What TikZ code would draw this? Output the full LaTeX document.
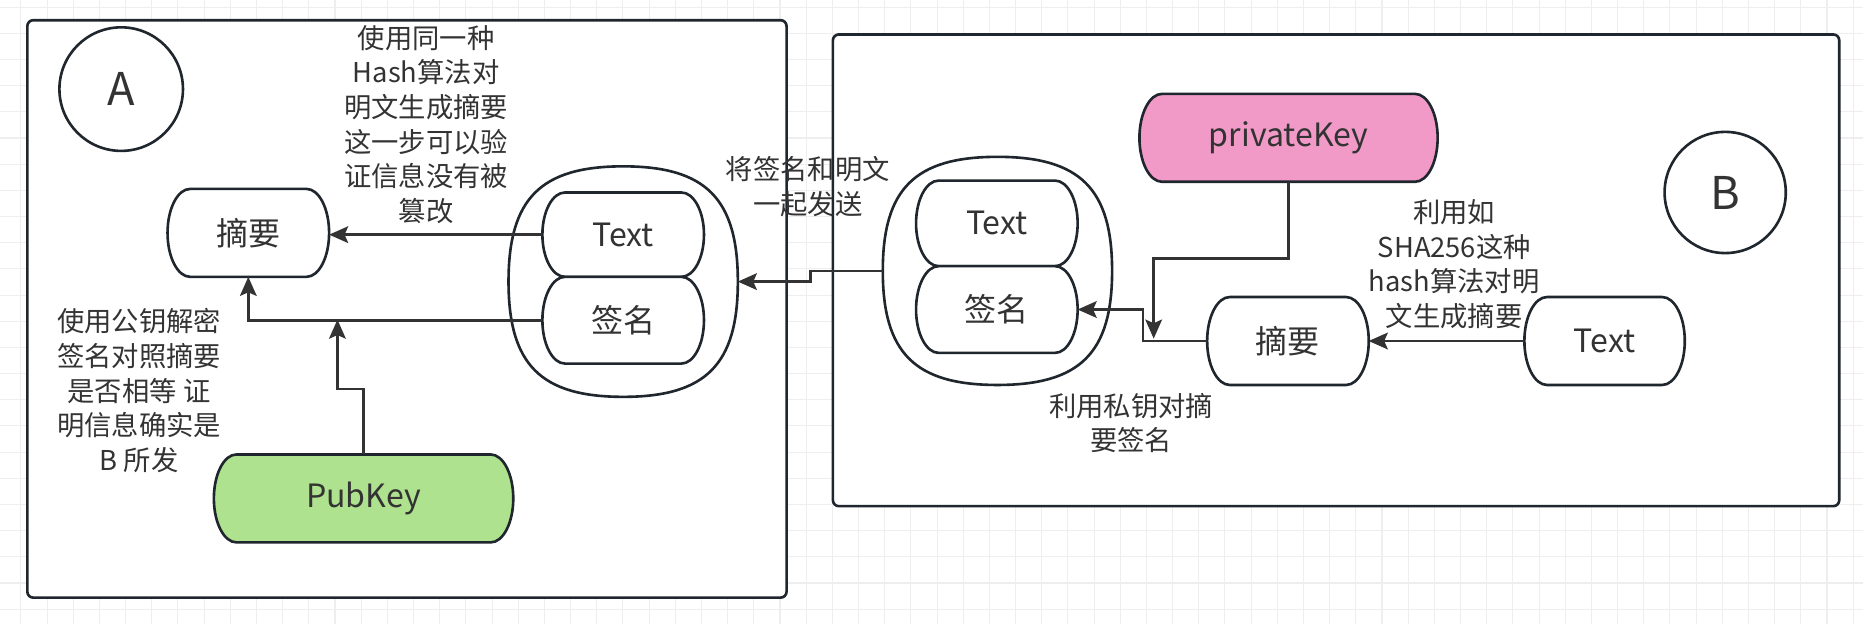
\documentclass[tikz,border=0pt]{standalone}
\usepackage{fontspec}
\setmainfont{Noto Sans CJK SC}
\usetikzlibrary{arrows.meta, calc}
\definecolor{gridc}{HTML}{EEEEEE}
\definecolor{edgec}{HTML}{1F262D}
\definecolor{linec}{HTML}{333333}
\definecolor{txtc}{HTML}{333333}
\definecolor{pubc}{HTML}{AEE28E}
\definecolor{keyc}{HTML}{F19AC8}
\pgfdeclarelayer{back}
\pgfdeclarelayer{shapes}
\pgfsetlayers{back,shapes,main}
\tikzset{
  panel/.style={draw=edgec, fill=white, line width=1.1pt, rounded corners=2.5pt},
  rim/.style={draw=edgec, line width=1.1pt},
  party/.style={circle, draw=edgec, fill=white, line width=1.1pt, minimum size=52pt,
                inner sep=0pt, font=\fontsize{19}{22}\selectfont, text=txtc},
  blob/.style={minimum width=68pt, minimum height=37pt, inner sep=0pt, outer sep=0pt,
               font=\fontsize{13.5}{16}\selectfont, text=txtc},
  pack/.style={minimum width=96.5pt, minimum height=97pt, inner sep=0pt, outer sep=0pt},
  note/.style={align=center, text=txtc, font=\fontsize{11.5}{14.6}\selectfont, inner sep=0pt},
  arr/.style={-{Stealth[length=8pt, width=7pt, inset=1.5pt]}, draw=linec, line width=1.15pt},
}
\newcommand{\blobrx}{9.5pt}
\newcommand{\packk}{0.72}
% outline of a box with half-ellipse ends, drawn under its text
\newcommand{\blobline}[2][white]{%
  \begin{pgfonlayer}{shapes}
  \draw[rim, fill=#1] let \p1=(#2.north west), \p2=(#2.south east), \p3=(#2.center) in
    (\x1+\blobrx,\y1) -- (\x2-\blobrx,\y1)
    .. controls (\x2-0.448*\blobrx,\y1) and (\x2,\y3+0.552*\y1-0.552*\y3) .. (\x2,\y3)
    .. controls (\x2,\y3-0.552*\y1+0.552*\y3) and (\x2-0.448*\blobrx,\y2) .. (\x2-\blobrx,\y2)
    -- (\x1+\blobrx,\y2)
    .. controls (\x1+0.448*\blobrx,\y2) and (\x1,\y3-0.552*\y1+0.552*\y3) .. (\x1,\y3)
    .. controls (\x1,\y3+0.552*\y1-0.552*\y3) and (\x1+0.448*\blobrx,\y1) .. (\x1+\blobrx,\y1)
    -- cycle;
  \end{pgfonlayer}}
% rounded oval round a pair of boxes
\newcommand{\packline}[1]{%
  \begin{pgfonlayer}{shapes}
  \draw[rim] let \p1=(#1.north), \p2=(#1.east), \p3=(#1.south), \p4=(#1.west), \p5=(#1.center) in
    (\p1) .. controls (\x5+\packk*\x2-\packk*\x5,\y1) and (\x2,\y5+\packk*\y1-\packk*\y5) .. (\p2)
    .. controls (\x2,\y5+\packk*\y3-\packk*\y5) and (\x5+\packk*\x2-\packk*\x5,\y3) .. (\p3)
    .. controls (\x5+\packk*\x4-\packk*\x5,\y3) and (\x4,\y5+\packk*\y3-\packk*\y5) .. (\p4)
    .. controls (\x4,\y5+\packk*\y1-\packk*\y5) and (\x5+\packk*\x4-\packk*\x5,\y1) .. (\p1)
    -- cycle;
  \end{pgfonlayer}}

\begin{document}
\begin{tikzpicture}[x=0.5pt, y=-0.5pt]
\useasboundingbox (0,0) rectangle (1568,525);

% background grid
\begin{pgfonlayer}{back}
\foreach \x in {17.6,39.63,...,1568} {
  \draw[gridc, line width=0.45pt] (\x,0) -- (\x,525);
}
\foreach \y in {6,28.03,...,525} {
  \draw[gridc, line width=0.45pt] (0,\y) -- (1568,\y);
}
\draw[panel] (23,17) rectangle (662,503);
\draw[panel] (701,29) rectangle (1548,426);
\end{pgfonlayer}

% party A: checks the signature
\node[party] (ptyA) at (102,75) {A};
\node[blob] (sumA) at (209,196) {摘要};
\node[pack] (outA) at (524.5,237) {};
\node[blob, minimum height=35.5pt] (txtA) at (524.5,197.5) {Text};
\node[blob, minimum height=36.5pt] (sigA) at (524.5,269.5) {签名};
\node[blob, minimum width=126pt] (pubA) at (306,419.5) {PubKey};
\blobline{sumA}
\packline{outA}
\blobline{txtA}
\blobline{sigA}
\blobline[pubc]{pubA}

% party B: signs the digest
\node[party, minimum size=51pt] (ptyB) at (1452,162) {B};
\node[pack, minimum height=96pt] (outB) at (839.5,228) {};
\node[blob, minimum height=36pt] (txtB) at (839,188) {Text};
\node[blob, minimum height=36.5pt] (sigB) at (839,260.5) {签名};
\node[blob, minimum width=125.5pt] (keyB) at (1084.5,116) {privateKey};
\node[blob] (sumB) at (1084,287) {摘要};
\node[blob, minimum width=67.5pt] (msgB) at (1350.5,287) {Text};
\packline{outB}
\blobline{txtB}
\blobline{sigB}
\blobline[keyc]{keyB}
\blobline{sumB}
\blobline{msgB}

% notes
\node[note] (lblHash) at (358.6,104.8) {使用同一种\\Hash算法对\\明文生成摘要\\这一步可以验\\证信息没有被\\篡改};
\node[note] (lblPub) at (117,328.8) {使用公钥解密\\签名对照摘要\\是否相等 证\\明信息确实是\\B 所发};
\node[note] (lblSend) at (680,157) {将签名和明文\\一起发送};
\node[note] (lblSha) at (1224,222.5) {利用如\\SHA256这种\\hash算法对明\\文生成摘要};
\node[note] (lblSign) at (952,356) {利用私钥对摘\\要签名};

% connectors on B side
\draw[arr] (msgB.west) -- (sumB.east);
\draw[arr] (sumB.west) -- ++(-54,0) |- (sigB.east);
\coordinate (keyEnd) at (971,285);
\draw[arr] (keyB.south) -- ++(0,64.7) -| (keyEnd);

% sending both to A
\draw[arr] (outB.west) -| ($(outA.east)!0.5!(outB.west)$) |- (outA.east);

% connectors on A side
\draw[arr] (txtA.west) -- (sumA.east |- txtA.west);
\draw[arr] (sigA.west) -| (sumA.south);
\coordinate (pubEnd) at (284,269);
\draw[arr] (pubA.north) -- ++(0,-55) -| (pubEnd);
\end{tikzpicture}
\end{document}
